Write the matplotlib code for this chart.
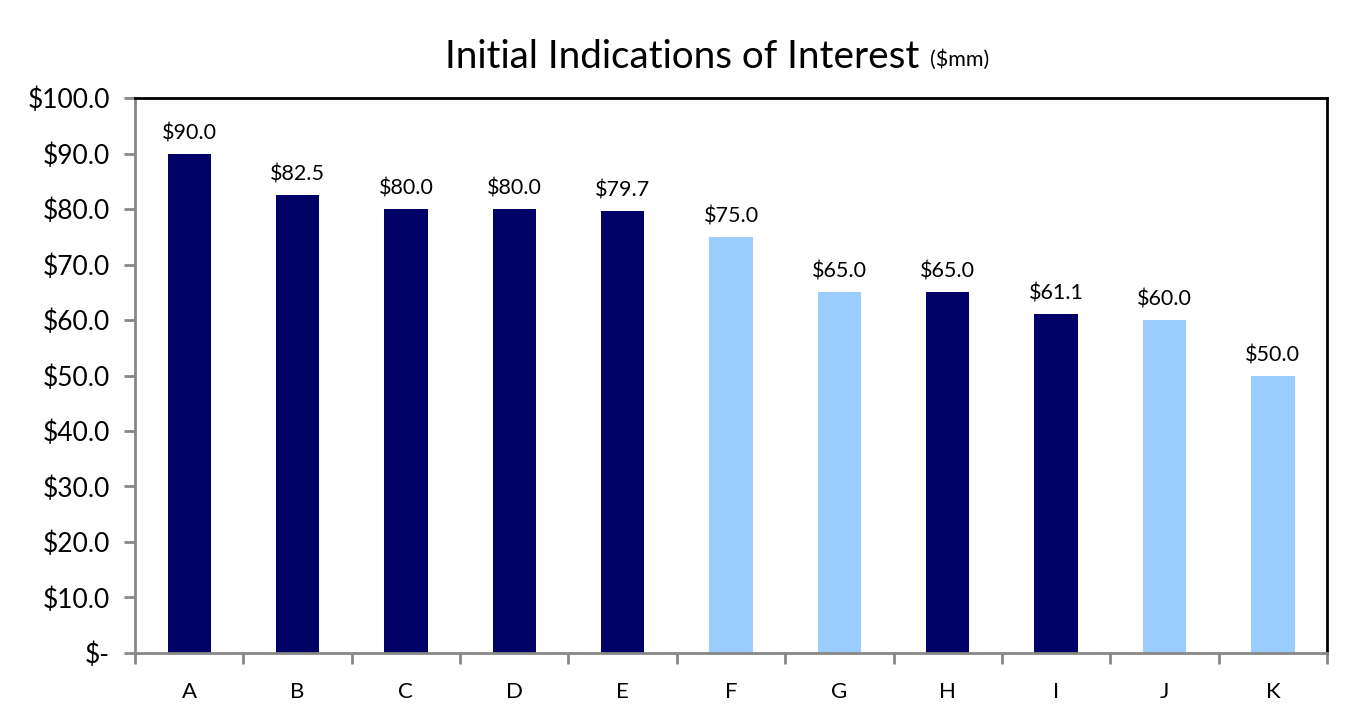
import matplotlib
matplotlib.use("Agg")
import matplotlib.pyplot as plt
from matplotlib.ticker import FixedLocator, NullFormatter

categories = ["A", "B", "C", "D", "E", "F", "G", "H", "I", "J", "K"]
values = [90.0, 82.5, 80.0, 80.0, 79.7, 75.0, 65.0, 65.0, 61.1, 60.0, 50.0]
groups = ["dark", "dark", "dark", "dark", "dark", "light", "light", "dark", "dark", "light", "light"]
yticks = [0, 10, 20, 30, 40, 50, 60, 70, 80, 90, 100]

palette = {"dark": "#000066", "light": "#99CCFF"}
plt.rcParams['font.family'] = ['Lato', 'DejaVu Sans']

fig = plt.figure(figsize=(13.5, 7.22), dpi=100)
ax = fig.add_axes([0.1, 0.0956, 0.883, 0.7686])

x = list(range(len(categories)))
colors = [palette[g] for g in groups]
ax.bar(x, values, width=0.4, color=colors, zorder=2)

for xi, v in zip(x, values):
    ax.annotate(f"${v:.1f}", (xi, v), xytext=(0, 7.5), textcoords="offset points",
                ha="center", va="bottom", fontsize=15.5)

ax.set_xlim(-0.5, len(categories) - 0.5)
ax.set_ylim(0, 100)
ax.set_yticks(yticks)
ax.set_yticklabels(["$-" if t == 0 else f"${t:.1f}" for t in yticks], fontsize=19)
ax.set_xticks(x)
ax.set_xticklabels(categories, fontsize=16)
ax.xaxis.set_minor_locator(FixedLocator([i - 0.5 for i in range(len(categories) + 1)]))
ax.xaxis.set_minor_formatter(NullFormatter())
ax.tick_params(axis="x", which="major", length=0, pad=21)
ax.tick_params(axis="x", which="minor", length=8, width=2, color="#888888", direction="out")
ax.tick_params(axis="y", which="major", length=8, width=2, color="#888888", direction="out", pad=10)

for s in ["left", "bottom"]:
    ax.spines[s].set_color("#888888")
    ax.spines[s].set_linewidth(2)
for s in ["top", "right"]:
    ax.spines[s].set_color("black")
    ax.spines[s].set_linewidth(2)

t = fig.text(445 / 1350, 1 - 57 / 722, "Initial Indications of Interest", fontsize=27.8,
             ha="left", va="center")
fig.canvas.draw()
ax.annotate("($mm)", xy=(1, 0.5), xycoords=t, xytext=(8, -2), textcoords="offset points",
            ha="left", va="center", fontsize=15.5)

fig.savefig("out.png", dpi=100)
